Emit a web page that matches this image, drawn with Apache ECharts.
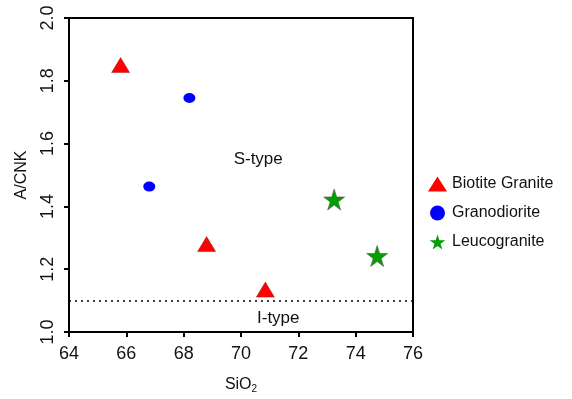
<!DOCTYPE html>
<html>
<head>
<meta charset="utf-8">
<script src="https://cdn.jsdelivr.net/npm/echarts@6/dist/echarts.min.js"></script>
<style>
html, body { margin: 0; padding: 0; background: #fff; }
#chart { width: 572px; height: 399px; }
</style>
</head>
<body>
<div id="chart"></div>
<script>
var biotiteGranite = [[65.8, 1.85], [68.8, 1.28], [70.85, 1.135]];
var granodiorite = [[68.2, 1.745], [66.8, 1.463]];
var leucogranite = [[73.25, 1.422], [74.75, 1.242]];
var xTicks = [64, 66, 68, 70, 72, 74, 76];
var yTicks = [1.0, 1.2, 1.4, 1.6, 1.8, 2.0];
var boundaryY = 1.1;

var starPath = 'path://M50,0 L61.2,34.5 L97.6,34.5 L68.2,55.9 L79.4,90.5 L50,69.1 L20.6,90.5 L31.8,55.9 L2.4,34.5 L38.8,34.5 Z';
var fontFam = 'Liberation Sans, Arial, sans-serif';

var myChart = echarts.init(document.getElementById('chart'));
var option = {
    animation: false,
    textStyle: { fontFamily: fontFam, color: '#111' },
    grid: {
        left: 69, right: 159, top: 18, bottom: 66,
        show: true, borderColor: '#000', borderWidth: 2
    },
    legend: {
        orient: 'vertical',
        left: 423,
        top: 171,
        itemGap: 13,
        itemWidth: 19,
        itemHeight: 15,
        itemStyle: { borderWidth: 0 },
        textStyle: { fontSize: 16, color: '#111', fontFamily: fontFam },
        data: ['Biotite Granite', 'Granodiorite', 'Leucogranite']
    },
    xAxis: {
        type: 'value',
        min: xTicks[0], max: xTicks[xTicks.length - 1], interval: 2,
        name: '{a|SiO}{b|2}',
        nameLocation: 'middle',
        nameGap: 44,
        nameTextStyle: {
            rich: {
                a: { fontSize: 16, color: '#111', fontFamily: fontFam },
                b: { fontSize: 10, color: '#111', fontFamily: fontFam, padding: [8, 0, 0, 0] }
            }
        },
        axisLine: { lineStyle: { color: '#000', width: 2 } },
        axisTick: { length: 5, lineStyle: { color: '#000', width: 2 } },
        axisLabel: { fontSize: 18, color: '#111', margin: 13 },
        splitLine: { show: false }
    },
    yAxis: {
        type: 'value',
        min: yTicks[0], max: yTicks[yTicks.length - 1], interval: 0.2,
        name: 'A/CNK',
        nameLocation: 'middle',
        nameGap: 39,
        nameTextStyle: { fontSize: 16, color: '#111' },
        axisLine: { lineStyle: { color: '#000', width: 2 } },
        axisTick: { length: 5, lineStyle: { color: '#000', width: 2 } },
        axisLabel: {
            fontSize: 18, color: '#111', rotate: 90, margin: 12,
            formatter: function (v) { return v.toFixed(1); }
        },
        splitLine: { show: false }
    },
    series: [
        {
            name: 'Biotite Granite',
            type: 'scatter',
            symbol: 'triangle',
            symbolSize: [18, 15],
            itemStyle: { color: '#ff0000', borderColor: '#8a2020', borderWidth: 0.5, opacity: 1 },
            data: biotiteGranite,
            markLine: {
                silent: true,
                symbol: 'none',
                label: { show: false },
                lineStyle: { color: '#000', type: [2, 4], width: 1.5 },
                data: [{ yAxis: boundaryY }]
            }
        },
        {
            name: 'Granodiorite',
            type: 'scatter',
            symbol: 'circle',
            symbolSize: [12, 10],
            itemStyle: { color: '#0000ff', opacity: 1 },
            data: granodiorite
        },
        {
            name: 'Leucogranite',
            type: 'scatter',
            symbol: starPath,
            symbolSize: 21,
            itemStyle: { color: '#00a000', borderColor: '#555', borderWidth: 0.6, opacity: 1 },
            data: leucogranite
        },
        {
            name: 'fields',
            type: 'scatter',
            symbolSize: 0,
            silent: true,
            itemStyle: { opacity: 1 },
            label: {
                show: true,
                position: 'inside',
                fontSize: 17,
                color: '#111',
                formatter: function (p) { return p.data[2]; }
            },
            data: [[70.6, 1.55, 'S-type'], [71.3, 1.043, 'I-type']]
        }
    ]
};
myChart.setOption(option);
</script>
</body>
</html>
